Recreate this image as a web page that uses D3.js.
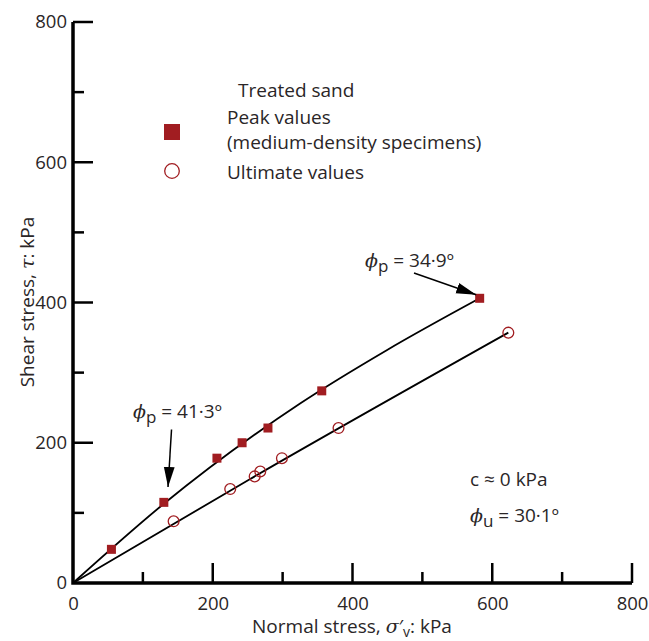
<!DOCTYPE html>
<html><head><meta charset="utf-8">
<script src="https://cdn.jsdelivr.net/npm/d3@7"></script>
<style>
html,body{margin:0;padding:0;background:#fff;}
text{font-family:"Open Sans","Noto Sans",sans-serif;fill:#2a2627;}
</style></head>
<body>
<svg id="chart" width="649" height="641"></svg>
<script>
// ---- data ----
const xTicks = [0, 200, 400, 600, 800];
const yTicks = [0, 200, 400, 600, 800];
const minorTicks = [100, 300, 500, 700];
const peakSigma = [55, 130, 206, 242, 279, 356, 582];
const peakTau   = [48, 115, 178, 200, 221, 274, 406];
const ultSigma  = [144, 225, 260, 268, 299, 380, 623];
const ultTau    = [88, 134, 152, 159, 178, 221, 357];
// fitted envelopes
const peakFitSigma = [0, 130, 325, 449, 582];
const peakFitTau   = [0, 113, 256, 332, 406];
const ultFitSigma  = [0, 253, 623];
const ultFitTau    = [0, 148, 357];

const svg = d3.select("#chart");
const m = {l:73, t:22, r:17, b:58};
const W = 649 - m.l - m.r, H = 641 - m.t - m.b;
const x = d3.scaleLinear().domain([0, 800]).range([m.l, m.l + W]);
const y = d3.scaleLinear().domain([0, 800]).range([m.t + H, m.t]);
const red = "#a11d21";
const FS = 19;

// axes
const gx = svg.append("g").attr("transform", `translate(0,${y(0)})`)
  .call(d3.axisBottom(x).tickValues(xTicks).tickSize(0).tickPadding(14).tickFormat(d3.format("d")));
gx.select(".domain").remove();
gx.selectAll("text").attr("font-size", 18.5).attr("font-family", "Open Sans").attr("fill", "#2a2627");
const gy = svg.append("g").attr("transform", `translate(${x(0)},0)`)
  .call(d3.axisLeft(y).tickValues(yTicks).tickSize(0).tickPadding(6).tickFormat(d3.format("d")));
gy.select(".domain").remove();
gy.selectAll("text").attr("font-size", 18.5).attr("font-family", "Open Sans").attr("fill", "#2a2627");

// inward ticks
svg.append("g").selectAll("line").data(xTicks.slice(1)).join("line")
  .attr("x1", d => x(d)).attr("x2", d => x(d)).attr("y1", y(0)).attr("y2", y(0) - 20)
  .attr("stroke", "#000").attr("stroke-width", 2.5);
svg.append("g").selectAll("line").data(minorTicks).join("line")
  .attr("x1", d => x(d)).attr("x2", d => x(d)).attr("y1", y(0)).attr("y2", y(0) - 11)
  .attr("stroke", "#000").attr("stroke-width", 2.5);
svg.append("g").selectAll("line").data(yTicks.slice(1)).join("line")
  .attr("y1", d => y(d)).attr("y2", d => y(d)).attr("x1", x(0)).attr("x2", x(0) + 20)
  .attr("stroke", "#000").attr("stroke-width", 2.5);
svg.append("g").selectAll("line").data(minorTicks).join("line")
  .attr("y1", d => y(d)).attr("y2", d => y(d)).attr("x1", x(0)).attr("x2", x(0) + 11)
  .attr("stroke", "#000").attr("stroke-width", 2.5);

// axis lines
svg.append("path").attr("d", `M${x(0)},${y(800)}V${y(0)}H${x(800)}`)
  .attr("fill", "none").attr("stroke", "#000").attr("stroke-width", 3.5).attr("stroke-linejoin", "miter");

// fit curves
const line = d3.line().x(d => x(d[0])).y(d => y(d[1])).curve(d3.curveMonotoneX);
svg.append("path").datum(peakFitSigma.map((s, i) => [s, peakFitTau[i]]))
  .attr("d", line).attr("fill", "none").attr("stroke", "#000").attr("stroke-width", 1.8);
svg.append("path").datum(ultFitSigma.map((s, i) => [s, ultFitTau[i]]))
  .attr("d", line).attr("fill", "none").attr("stroke", "#000").attr("stroke-width", 1.8);

// points
const sq = 9;
svg.append("g").selectAll("rect").data(peakSigma.map((s, i) => [s, peakTau[i]])).join("rect")
  .attr("x", d => x(d[0]) - sq/2).attr("y", d => y(d[1]) - sq/2)
  .attr("width", sq).attr("height", sq).attr("fill", red);
svg.append("g").selectAll("circle").data(ultSigma.map((s, i) => [s, ultTau[i]])).join("circle")
  .attr("cx", d => x(d[0])).attr("cy", d => y(d[1])).attr("r", 5.4)
  .attr("fill", "none").attr("stroke", red).attr("stroke-width", 1.3);

// legend
svg.append("text").attr("x", 238).attr("y", 97).attr("font-size", FS).text("Treated sand");
svg.append("rect").attr("x", 164).attr("y", 124).attr("width", 16).attr("height", 16).attr("fill", red);
svg.append("text").attr("x", 227).attr("y", 124).attr("font-size", FS).text("Peak values");
svg.append("text").attr("x", 227).attr("y", 149).attr("font-size", FS).text("(medium-density specimens)");
svg.append("circle").attr("cx", 172).attr("cy", 171).attr("r", 7.3)
  .attr("fill", "none").attr("stroke", red).attr("stroke-width", 1.3);
svg.append("text").attr("x", 227).attr("y", 179).attr("font-size", FS).text("Ultimate values");

// annotations
function phiLabel(px, py, sub, rest) {
  const t = svg.append("text").attr("x", px).attr("y", py).attr("font-size", FS);
  t.append("tspan").attr("font-style", "italic").attr("font-family", "DejaVu Serif").text("\u03D5");
  t.append("tspan").attr("dy", 5).attr("font-size", 17).text(sub);
  t.append("tspan").attr("dy", -5).text(rest);
}
phiLabel(365, 267, "p", " = 34\u00B79\u00BA");
phiLabel(133, 418, "p", " = 41\u00B73\u00BA");
phiLabel(470, 522, "u", " = 30\u00B71\u00BA");
svg.append("text").attr("x", 470).attr("y", 486).attr("font-size", FS).text("c \u2248 0 kPa");

// arrows
const defs = svg.append("defs");
defs.append("marker").attr("id", "ah").attr("viewBox", "0 0 10 10").attr("refX", 10).attr("refY", 5)
  .attr("markerWidth", 20).attr("markerHeight", 20).attr("markerUnits", "userSpaceOnUse").attr("orient", "auto")
  .append("path").attr("d", "M0,2.3L10,5L0,7.7Z").attr("fill", "#000");
const arrows = [[488, 442, 577, 411], [141, 219, 136, 137]];
svg.append("g").selectAll("line").data(arrows).join("line")
  .attr("x1", d => x(d[0])).attr("y1", d => y(d[1])).attr("x2", d => x(d[2])).attr("y2", d => y(d[3]))
  .attr("stroke", "#000").attr("stroke-width", 1.5).attr("marker-end", "url(#ah)");

// axis titles
const xt = svg.append("text").attr("x", 352).attr("y", 633).attr("text-anchor", "middle").attr("font-size", FS);
xt.append("tspan").text("Normal stress, ");
xt.append("tspan").attr("font-style", "italic").attr("font-family", "DejaVu Serif").text("\u03C3");
xt.append("tspan").text("\u2032");
xt.append("tspan").attr("dy", 4).attr("font-size", 14).text("v");
xt.append("tspan").attr("dy", -4).text(": kPa");
const yt = svg.append("text").attr("transform", "translate(34,302) rotate(-90)").attr("text-anchor", "middle").attr("font-size", FS);
yt.append("tspan").text("Shear stress, ");
yt.append("tspan").attr("font-style", "italic").attr("font-family", "DejaVu Serif").text("\u03C4");
yt.append("tspan").text(": kPa");
</script>
</body></html>
